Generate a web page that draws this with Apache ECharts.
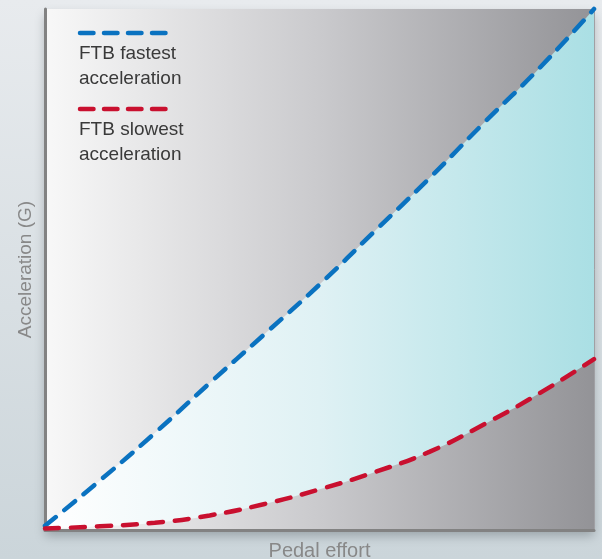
<!DOCTYPE html>
<html>
<head>
<meta charset="utf-8">
<script src="https://cdn.jsdelivr.net/npm/echarts@6/dist/echarts.min.js"></script>
<style>
html,body{margin:0;padding:0;width:602px;height:559px;overflow:hidden;}
#c{width:602px;height:559px;}
</style>
</head>
<body>
<div id="c"></div>
<script>
// Data (x: pedal effort 0-100, y: acceleration 0-100)
const categories = ['0','10','20','30','40','50','60','70','80','90','100'];
const fastest = [0.8, 9.5, 18.6, 28.2, 37.6, 47.1, 57.3, 67.5, 78.2, 88.6, 100];
const slowest = [0.3, 0.7, 1.4, 2.8, 5.0, 7.8, 11.1, 15.0, 20.3, 26.2, 32.8];
const seriesNames = ['FTB slowest acceleration', 'FTB fastest acceleration'];
const axisNames = {x: 'Pedal effort', y: 'Acceleration (G)'};

const band = fastest.map((v, i) => +(v - slowest[i]).toFixed(2));

const BLUE = '#0a72c0';
const RED = '#c9102f';
const FONT = '"Liberation Sans", Arial, Helvetica, sans-serif';

const chart = echarts.init(document.getElementById('c'), null, {renderer: 'canvas'});
chart.setOption({
  animation: false,
  backgroundColor: new echarts.graphic.LinearGradient(0, 0, 0, 1, [
    {offset: 0, color: '#e8ebee'},
    {offset: 1, color: '#cbd5da'}
  ]),
  grid: {
    left: 45, right: 8, top: 9, bottom: 29,
    outerBoundsMode: 'none',
    containLabel: false,
    show: true,
    borderWidth: 0,
    backgroundColor: new echarts.graphic.LinearGradient(0, 0, 1, 0, [
      {offset: 0, color: '#f8f8f8'},
      {offset: 0.5, color: '#cacacd'},
      {offset: 1, color: '#939397'}
    ]),
    shadowColor: 'rgba(60,70,75,0.35)',
    shadowBlur: 10,
    shadowOffsetY: 6
  },
  xAxis: {
    type: 'category',
    data: categories,
    boundaryGap: false,
    name: axisNames.x,
    nameLocation: 'middle',
    nameGap: 11,
    nameTextStyle: {color: '#888888', fontSize: 20, fontFamily: FONT},
    axisLine: {show: true, lineStyle: {color: '#828282', width: 3}},
    axisTick: {show: false},
    axisLabel: {show: false},
    splitLine: {show: false}
  },
  yAxis: [{
    type: 'value',
    min: 0, max: 100,
    name: axisNames.y,
    nameLocation: 'middle',
    nameGap: 10,
    nameTextStyle: {color: '#888888', fontSize: 19, fontFamily: FONT},
    axisLine: {show: true, lineStyle: {color: '#828282', width: 3}},
    axisTick: {show: false},
    axisLabel: {show: false},
    splitLine: {show: false}
  }, {
    type: 'value',
    min: 0, max: 100,
    position: 'right',
    axisLine: {show: true, lineStyle: {color: '#a0a0a4', width: 1}},
    axisTick: {show: false},
    axisLabel: {show: false},
    splitLine: {show: false}
  }],
  series: [{
    name: seriesNames[0],
    type: 'line',
    stack: 'band',
    data: slowest,
    smooth: true,
    symbol: 'none',
    clip: false,
    z: 4,
    lineStyle: {color: RED, width: 4.5, type: [14, 12], cap: 'round'}
  }, {
    name: seriesNames[1],
    type: 'line',
    stack: 'band',
    data: band,
    smooth: true,
    symbol: 'none',
    clip: false,
    z: 3,
    lineStyle: {color: BLUE, width: 4.5, type: [14, 11], cap: 'round'},
    areaStyle: {
      opacity: 1,
      color: new echarts.graphic.LinearGradient(0, 0, 1, 0, [
        {offset: 0, color: '#ffffff'},
        {offset: 0.5, color: '#dff1f4'},
        {offset: 1, color: '#aadfe4'}
      ])
    }
  }],
  graphic: [
    {type: 'line', shape: {x1: 80, y1: 33, x2: 165.5, y2: 33},
     style: {stroke: BLUE, lineWidth: 4.5, lineDash: [13.5, 10.5], lineCap: 'round'}},
    {type: 'text', left: 79, top: 41,
     style: {text: 'FTB fastest\nacceleration', fill: '#3a3a3a', font: '19px ' + FONT, lineHeight: 25}},
    {type: 'line', shape: {x1: 80, y1: 109, x2: 165.5, y2: 109},
     style: {stroke: RED, lineWidth: 4.5, lineDash: [13.5, 10.5], lineCap: 'round'}},
    {type: 'text', left: 79, top: 117,
     style: {text: 'FTB slowest\nacceleration', fill: '#3a3a3a', font: '19px ' + FONT, lineHeight: 25}}
  ]
});
</script>
</body>
</html>
